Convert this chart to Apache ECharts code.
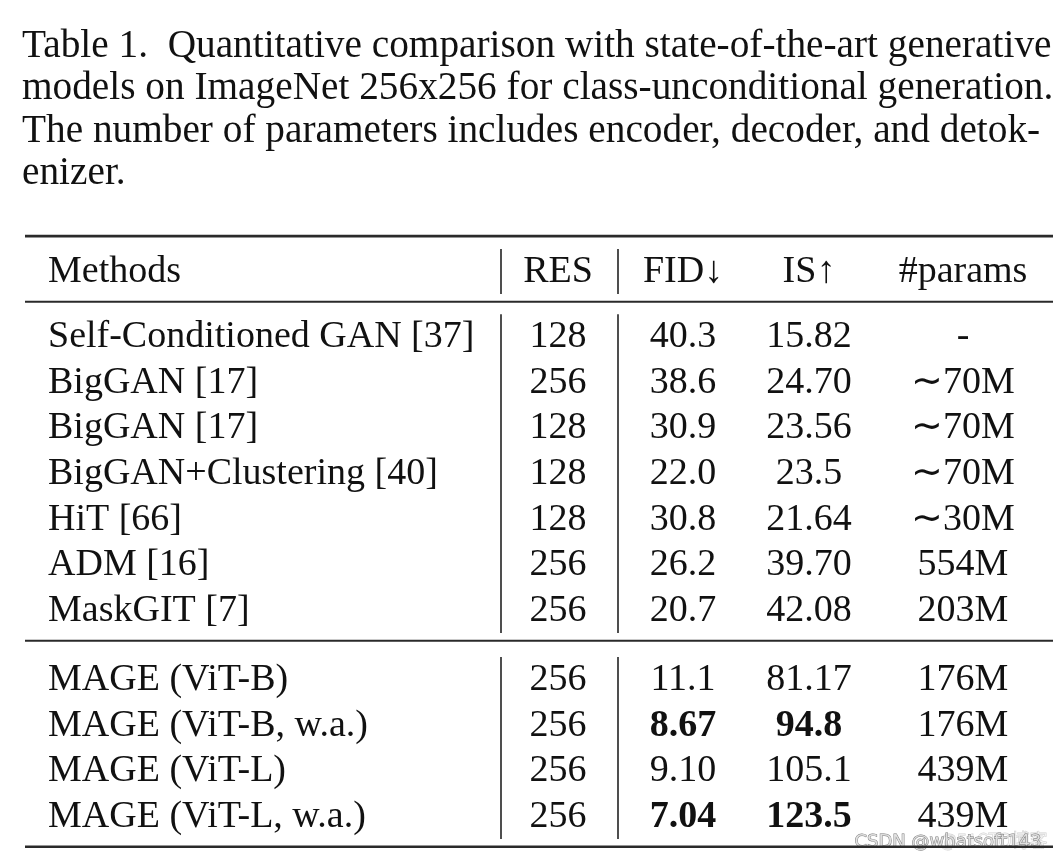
<!DOCTYPE html>
<html>
<head>
<meta charset="utf-8">
<script src="https://cdn.jsdelivr.net/npm/echarts@6/dist/echarts.min.js"></script>
<style>
html,body{margin:0;padding:0;background:#fff;}
#chart{width:1058px;height:858px;}
</style>
</head>
<body>
<div id="chart"></div>
<script>
// ---------- data ----------
const captionLines = [
  'Table 1.  Quantitative comparison with state-of-the-art generative',
  'models on ImageNet 256x256 for class-unconditional generation.',
  'The number of parameters includes encoder, decoder, and detok-',
  'enizer.'
];
const headers = ['Methods', 'RES', 'FID\u2193', 'IS\u2191', '#params'];
const methods = [
  'Self-Conditioned GAN [37]', 'BigGAN [17]', 'BigGAN [17]', 'BigGAN+Clustering [40]',
  'HiT [66]', 'ADM [16]', 'MaskGIT [7]',
  'MAGE (ViT-B)', 'MAGE (ViT-B, w.a.)', 'MAGE (ViT-L)', 'MAGE (ViT-L, w.a.)'
];
const res = ['128', '256', '128', '128', '128', '256', '256', '256', '256', '256', '256'];
const fid = ['40.3', '38.6', '30.9', '22.0', '30.8', '26.2', '20.7', '11.1', '8.67', '9.10', '7.04'];
const isScore = ['15.82', '24.70', '23.56', '23.5', '21.64', '39.70', '42.08', '81.17', '94.8', '105.1', '123.5'];
const params = ['-', '\u223C70M', '\u223C70M', '\u223C70M', '\u223C30M', '554M', '203M', '176M', '176M', '439M', '439M'];
const fidBold = [0, 0, 0, 0, 0, 0, 0, 0, 1, 0, 1];
const isBold  = [0, 0, 0, 0, 0, 0, 0, 0, 1, 0, 1];
const groupSizes = [7, 4];
const watermark = 'CSDN @whatsoft143';
const watermark2 = '@51CTO\u535A\u5BA2';

// ---------- layout (not data) ----------
const W = 1058, H = 858;
const FONT = "'Liberation Serif', 'Times New Roman', serif";
const tableFontSize = 38;
const textDy = 3;
const colX = [48, 558, 683, 809, 963];
const colAlign = ['left', 'center', 'center', 'center', 'center'];
const ruleX = [25, 1053];
const vLineX = [501, 618];
const headerY = 269;      // pixel of row unit 0
const pitch = 45.6;       // pixels per row unit
const headerGap = 1.43;
const groupGap = 1.52;

// row positions in row units
const rowPos = [];
{
  let start = headerGap;
  groupSizes.forEach(g => {
    for (let k = 0; k < g; k++) rowPos.push(start + k);
    start = start + g - 1 + groupGap;
  });
}

const columns = [methods, res, fid, isScore, params];
const boldCols = [null, null, fidBold, isBold, null];

const cells = [];
headers.forEach((h, c) => cells.push({ value: [colX[c], 0], text: h, bold: false, align: colAlign[c] }));
columns.forEach((col, c) => {
  col.forEach((t, r) => {
    cells.push({
      value: [colX[c], rowPos[r]],
      text: t,
      bold: !!(boldCols[c] && boldCols[c][r]),
      align: colAlign[c]
    });
  });
});

// rules (horizontal)
const rules = [];
rules.push({ value: [ruleX[0], -0.72], x2: ruleX[1], w: 2.6 });
rules.push({ value: [ruleX[0], 0.72], x2: ruleX[1], w: 2 });
{
  let gStart = 0;
  groupSizes.forEach((g, gi) => {
    const last = rowPos[gStart + g - 1];
    rules.push({ value: [ruleX[0], last + 0.72], x2: ruleX[1], w: gi === groupSizes.length - 1 ? 2.6 : 2 });
    gStart += g;
  });
}
// vertical lines per block
const vlines = [];
function addV(first, last) {
  vLineX.forEach(x => vlines.push({ value: [x, first - 0.44], y2: last + 0.55 }));
}
addV(0, 0);
{
  let gStart = 0;
  groupSizes.forEach(g => { addV(rowPos[gStart], rowPos[gStart + g - 1]); gStart += g; });
}

const yMin = -headerY / pitch;
const yMax = (H - headerY) / pitch;

const chart = echarts.init(document.getElementById('chart'), null, { renderer: 'canvas' });
chart.setOption({
  backgroundColor: '#fff',
  animation: false,
  title: {
    text: captionLines.join('\n'),
    left: 17,
    top: 20,
    textStyle: { fontFamily: FONT, fontSize: 39.3, fontWeight: 'normal', color: '#111', lineHeight: 42.5 }
  },
  grid: { left: 0, right: 0, top: 0, bottom: 0, containLabel: false },
  xAxis: { type: 'value', min: 0, max: W, show: false },
  yAxis: { type: 'value', min: yMin, max: yMax, inverse: true, show: false },
  series: [
    {
      type: 'custom',
      clip: false,
      data: rules,
      renderItem: function (params, api) {
        const it = rules[params.dataIndex];
        const p1 = api.coord([api.value(0), api.value(1)]);
        const p2 = api.coord([it.x2, api.value(1)]);
        return { type: 'line', shape: { x1: p1[0], y1: p1[1], x2: p2[0], y2: p2[1] },
                 style: { stroke: '#2a2a2a', lineWidth: it.w } };
      }
    },
    {
      type: 'custom',
      clip: false,
      data: vlines,
      renderItem: function (params, api) {
        const it = vlines[params.dataIndex];
        const p1 = api.coord([api.value(0), api.value(1)]);
        const p2 = api.coord([api.value(0), it.y2]);
        return { type: 'line', shape: { x1: p1[0], y1: p1[1], x2: p2[0], y2: p2[1] },
                 style: { stroke: '#222', lineWidth: 1.6 } };
      }
    },
    {
      type: 'custom',
      clip: false,
      data: cells,
      renderItem: function (params, api) {
        const it = cells[params.dataIndex];
        const p = api.coord([api.value(0), api.value(1)]);
        return {
          type: 'text',
          x: p[0], y: p[1] + textDy,
          style: {
            text: it.text,
            fill: '#111',
            font: (it.bold ? 'bold ' : '') + tableFontSize + 'px ' + FONT,
            align: it.align, textAlign: it.align,
            verticalAlign: 'middle', textVerticalAlign: 'middle'
          }
        };
      }
    }
  ],
  graphic: [
    {
      type: 'text', right: 10, bottom: 8, silent: true,
      style: { text: watermark2, font: "18px 'Noto Sans CJK SC', sans-serif", fill: 'rgba(255,255,255,0.4)', stroke: 'rgba(120,120,120,0.35)', lineWidth: 0.8 }
    },
    {
      type: 'text', right: 16, bottom: 6, silent: true,
      style: { text: watermark, font: "18px 'DejaVu Sans', sans-serif", fill: 'rgba(225,225,225,0.9)', stroke: 'rgba(95,95,95,0.85)', lineWidth: 0.9 }
    }
  ]
});
</script>
</body>
</html>
